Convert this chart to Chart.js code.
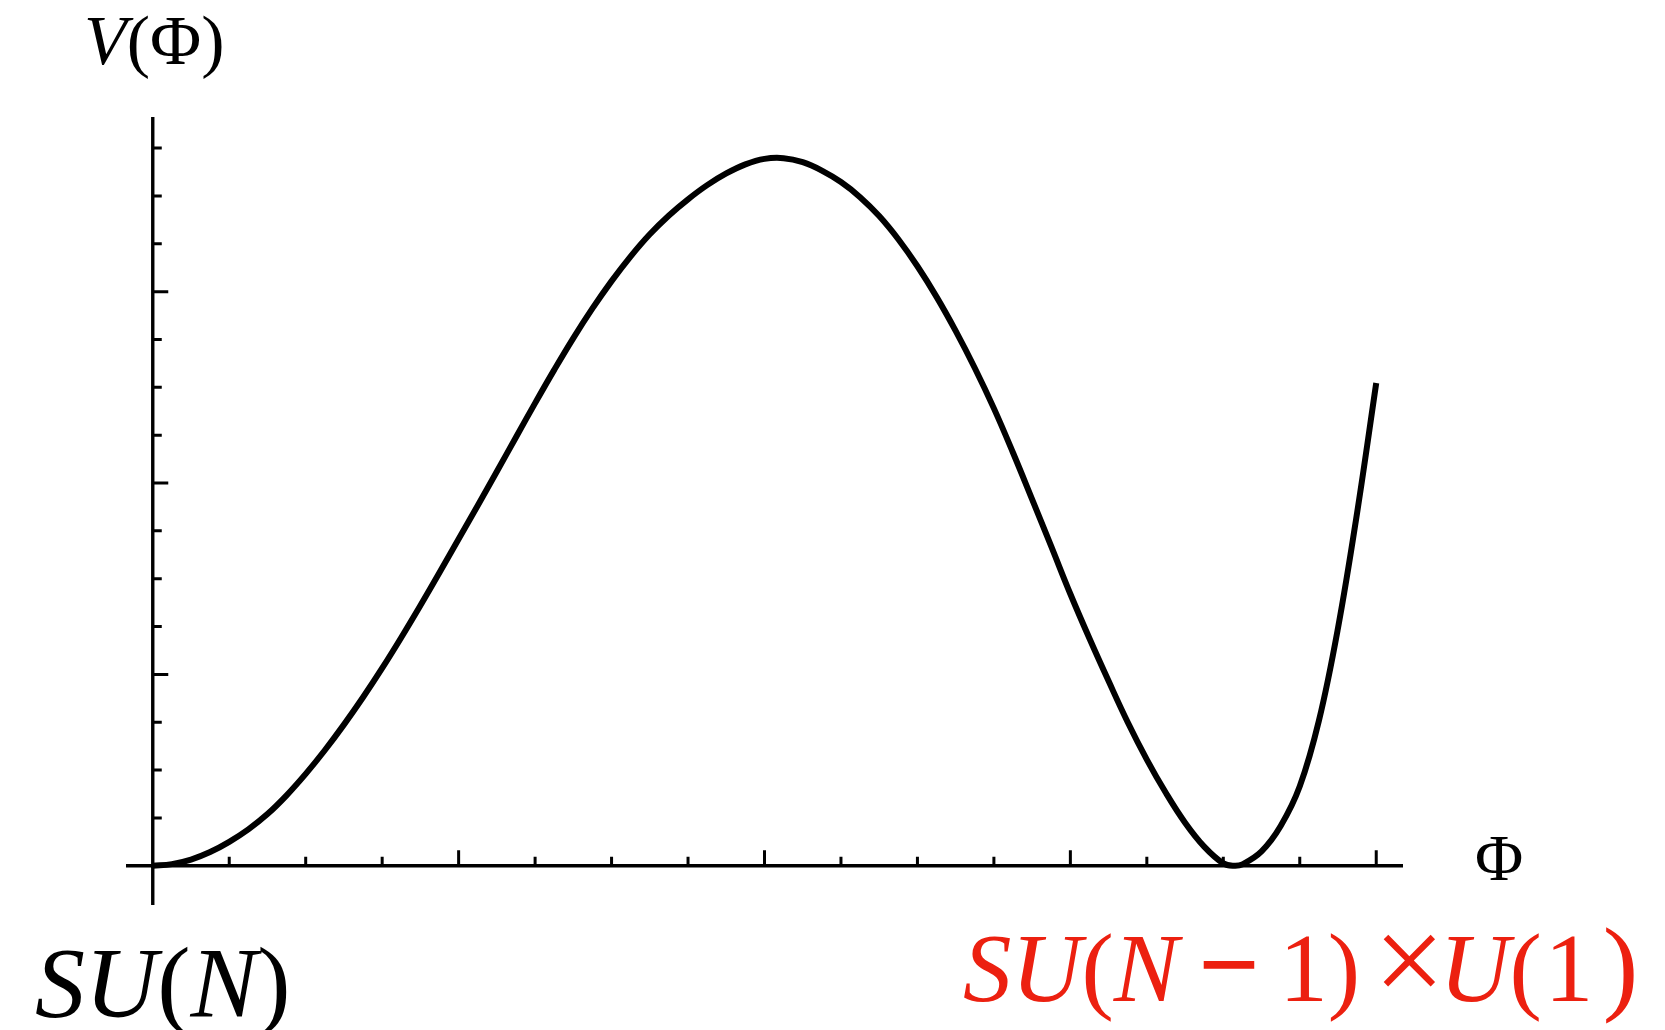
<!DOCTYPE html>
<html>
<head>
<meta charset="utf-8">
<title>V(Φ)</title>
<script src="https://cdn.jsdelivr.net/npm/chart.js@4.4.1/dist/chart.umd.min.js"></script>
<style>
  html, body { margin: 0; padding: 0; background: #ffffff; }
  #wrap { width: 1665px; height: 1030px; position: relative; }
  canvas { display: block; }
</style>
</head>
<body>
<div id="wrap"><canvas id="c" width="1665" height="1030"></canvas></div>
<script>
// Field values Φ and the potential V(Φ) along the curve
const phi = [
  0, 0.25, 0.5, 0.75, 1.0, 1.25, 1.5, 1.75, 2.0, 2.25, 2.5, 2.75, 3.0, 3.25, 3.5, 3.75,
  4.0, 4.25, 4.5, 4.75, 5.0, 5.25, 5.5, 5.75, 6.0, 6.25, 6.5, 6.75, 7.0, 7.25, 7.5, 7.75,
  8.0, 8.25, 8.5, 8.75, 9.0, 9.25, 9.5, 9.75, 10.0, 10.25, 10.5, 10.75, 11.0, 11.25, 11.5, 11.75,
  12.0, 12.25, 12.5, 12.75, 13.0, 13.25, 13.5, 13.75, 14.0, 14.14, 14.25, 14.5, 14.75,
  15.0, 15.25, 15.5, 15.75, 16.0
];
const potential = [
  0, 0.035, 0.13, 0.287, 0.50, 0.761, 1.08, 1.472, 1.92, 2.414, 2.95, 3.522, 4.13, 4.772, 5.44, 6.129,
  6.83, 7.53, 8.24, 8.958, 9.67, 10.365, 11.03, 11.649, 12.22, 12.739, 13.20, 13.593, 13.93, 14.226, 14.47, 14.66,
  14.775, 14.79, 14.705, 14.53, 14.29, 13.975, 13.58, 13.095, 12.53, 11.891, 11.18, 10.404, 9.56, 8.633, 7.66, 6.675,
  5.68, 4.749, 3.86, 3.00, 2.22, 1.52, 0.90, 0.40, 0.05, 0.0, 0.03, 0.30, 0.83,
  1.66, 3.03, 4.97, 7.38, 10.09
];

// Tick positions on both axes; every fourth tick is drawn longer
const xTicks = [1, 2, 3, 4, 5, 6, 7, 8, 9, 10, 11, 12, 13, 14, 15, 16];
const yTicks = [1, 2, 3, 4, 5, 6, 7, 8, 9, 10, 11, 12, 13, 14, 15];
const majorStep = 4;

// Axis ranges
const xRange = [-0.35, 16.35];
const yRange = [-0.82, 15.65];

const points = phi.map((p, i) => ({ x: p, y: potential[i] }));

const SERIF = '"Liberation Serif", "Times New Roman", Times, serif';
const RED = 'rgb(236, 32, 16)';

// Draws a run of text pieces left to right from (x, y); pieces may be italic or resized
function drawRuns(ctx, runs, x, y, size, color) {
  ctx.save();
  ctx.fillStyle = color;
  ctx.textBaseline = 'alphabetic';
  ctx.textAlign = 'left';
  let cx = x;
  for (const r of runs) {
    const s = size * (r.scale || 1);
    ctx.font = (r.i ? 'italic ' : '') + (r.b ? 'bold ' : '') + s + 'px ' + SERIF;
    cx += (r.pre || 0) * size;
    ctx.fillText(r.t, cx, y + (r.dy || 0) * size);
    cx += ctx.measureText(r.t).width + (r.post || 0) * size;
  }
  ctx.restore();
}

const axesPlugin = {
  id: 'crossAxes',
  beforeDatasetsDraw(chart) {
    const ctx = chart.ctx;
    const xs = chart.scales.x, ys = chart.scales.y;
    const x0 = xs.getPixelForValue(0), y0 = ys.getPixelForValue(0);
    ctx.save();
    ctx.strokeStyle = '#000';
    ctx.lineCap = 'butt';
    // axis lines crossing at the origin
    ctx.lineWidth = 3.4;
    ctx.beginPath();
    ctx.moveTo(xs.getPixelForValue(xRange[0]), y0);
    ctx.lineTo(xs.getPixelForValue(xRange[1]), y0);
    ctx.moveTo(x0, ys.getPixelForValue(yRange[0]));
    ctx.lineTo(x0, ys.getPixelForValue(yRange[1]));
    ctx.stroke();
    // tick marks pointing into the plot
    ctx.lineWidth = 3;
    ctx.beginPath();
    for (const t of xTicks) {
      const px = xs.getPixelForValue(t);
      const len = (t % majorStep === 0) ? 15.5 : 9;
      ctx.moveTo(px, y0);
      ctx.lineTo(px, y0 - len);
    }
    for (const t of yTicks) {
      const py = ys.getPixelForValue(t);
      const len = (t % majorStep === 0) ? 15.5 : 9;
      ctx.moveTo(x0, py);
      ctx.lineTo(x0 + len, py);
    }
    ctx.stroke();
    ctx.restore();
  },
  afterDraw(chart) {
    const ctx = chart.ctx;
    // axis labels
    drawRuns(ctx, [{ t: 'V', i: true }, { t: '(Φ)' }], 84, 64, 70, '#000');
    drawRuns(ctx, [{ t: 'Φ' }], 1475, 880, 66, '#000');
    // vacuum labels under the two minima
    drawRuns(ctx, [{ t: 'SU', i: true }, { t: '(' }, { t: 'N', i: true }, { t: ')' }], 35, 1016, 100, '#000');
    drawRuns(ctx, [
      { t: 'SU', i: true }, { t: '(' }, { t: 'N', i: true },
      { t: '−', b: true, scale: 1.12, pre: 0.2, post: 0.2 }, { t: '1)' },
      { t: '×', scale: 1.3, pre: 0.14, post: -0.055, dy: 0.02 },
      { t: 'U', i: true }, { t: '(', post: 0.03 }, { t: '1', post: 0.1 }, { t: ')', scale: 1.1 }
    ], 963, 1001, 97, RED);
  }
};

function build() {
  new Chart(document.getElementById('c'), {
    type: 'line',
    data: {
      datasets: [{
        data: points,
        borderColor: '#000',
        borderWidth: 6,
        pointRadius: 0,
        fill: false,
        tension: 0.4,
        borderCapStyle: 'butt',
        borderJoinStyle: 'round'
      }]
    },
    options: {
      responsive: false,
      animation: false,
      events: [],
      layout: { padding: { left: 126, right: 262, top: 117, bottom: 125 } },
      plugins: { legend: { display: false }, tooltip: { enabled: false } },
      scales: {
        x: { type: 'linear', display: false, min: xRange[0], max: xRange[1] },
        y: { type: 'linear', display: false, min: yRange[0], max: yRange[1] }
      }
    },
    plugins: [axesPlugin]
  });
}

const fontLoads = document.fonts ? [
  document.fonts.load('70px "Liberation Serif"', 'V(Φ)'),
  document.fonts.load('italic 70px "Liberation Serif"', 'SUN'),
  document.fonts.load('bold 70px "Liberation Serif"', '−')
] : [];
Promise.all(fontLoads).then(build, build);
</script>
</body>
</html>
